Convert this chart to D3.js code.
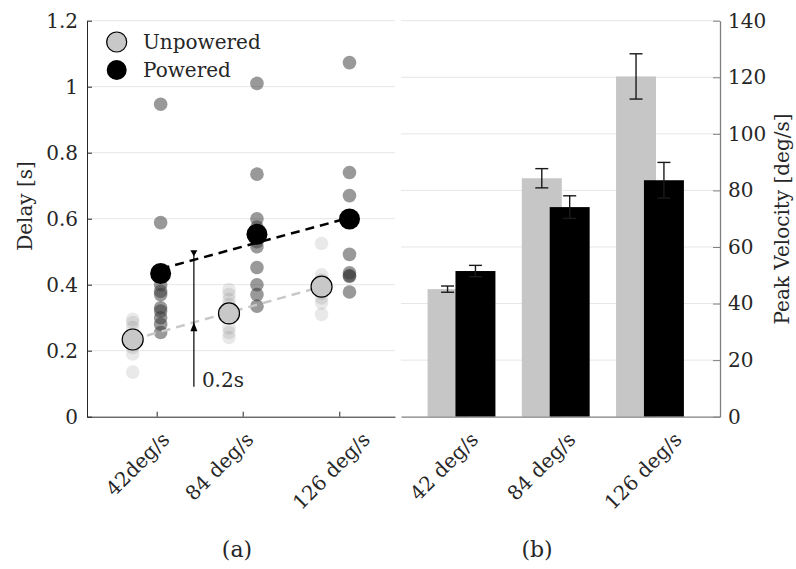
<!DOCTYPE html>
<html>
<head>
<meta charset="utf-8">
<script src="https://cdn.jsdelivr.net/npm/d3@7"></script>
<style>
  html, body { margin: 0; padding: 0; background: #fff; }
  svg { display: block; }
  svg text { font-family: "DejaVu Serif", serif !important; fill: #262626; }
</style>
</head>
<body>
<svg id="chart" width="796" height="569"></svg>
<script>
// ---------------- data ----------------
const leftCategories  = ["42deg/s", "84 deg/s", "126 deg/s"];
const rightCategories = ["42 deg/s", "84 deg/s", "126 deg/s"];
const categoryPos = [1, 2.02, 3.0];          // x position of each condition (panel a)
const leftTickPos = [1.106, 2.017, 3.04];    // x tick positions (panel a)
const delayTicks = [0, 0.2, 0.4, 0.6, 0.8, 1, 1.2];
const velocityTicks = [0, 20, 40, 60, 80, 100, 120, 140];

const unpoweredDelays = [
  [0.295, 0.285, 0.27, 0.25, 0.235, 0.21, 0.19, 0.135],
  [0.385, 0.37, 0.355, 0.34, 0.30, 0.27, 0.255, 0.24],
  [0.525, 0.43, 0.415, 0.40, 0.375, 0.36, 0.345, 0.31]
];
const poweredDelays = [
  [0.947, 0.588, 0.40, 0.38, 0.37, 0.33, 0.32, 0.30, 0.28, 0.255],
  [1.01, 0.735, 0.60, 0.575, 0.53, 0.515, 0.452, 0.40, 0.37, 0.335],
  [1.073, 0.74, 0.67, 0.60, 0.492, 0.436, 0.428, 0.425, 0.378]
];
const unpoweredMean = [0.234, 0.313, 0.394];
const poweredMean   = [0.434, 0.553, 0.599];
const unpoweredFit  = [0.234, 0.394];   // dashed fit line, first & last condition
const poweredFit    = [0.448, 0.603];
const annotationX = 1.5;
const annotationText = "0.2s";
const annotationSpan = 0.2;

const unpoweredVelocity = [45.1, 84.3, 120.3];
const unpoweredVelErr   = [1.1, 3.4, 8.0];
const poweredVelocity   = [51.5, 74.1, 83.6];
const poweredVelErr     = [2.0, 4.0, 6.3];

const legendLabels = ["Unpowered", "Powered"];
const panelLabels = ["(a)", "(b)"];

// ---------------- layout ----------------
const svg = d3.select("#chart");
const DARK = "#262626";
const GRID = "#e6e6e6";
const OFF = 0.148;
const FONT = "DejaVu Serif";
const labelShiftL = [14, 12, 32];   // pixel nudges of rotated tick labels
const labelShiftR = [18, 21, 33];

const yL = d3.scaleLinear().domain([0, 1.2]).range([416.7, 20.7]);
const xL = d3.scaleLinear().domain([0.368, 3.63]).range([87, 395]);
const yR = d3.scaleLinear().domain([0, 140]).range([416.7, 20.7]);
const xR = d3.scaleLinear().domain([0.358, 3.743]).range([401, 720]);

// ---------------- panel (a) ----------------
const gA = svg.append("g");
gA.append("g").selectAll("line").data(delayTicks.filter(d => d > 0)).join("line")
  .attr("x1", xL.range()[0]).attr("x2", xL.range()[1])
  .attr("y1", d => yL(d)).attr("y2", d => yL(d))
  .attr("stroke", GRID).attr("stroke-width", 1);

const axL = gA.append("g").attr("transform", `translate(${xL.range()[0]},0)`)
  .call(d3.axisLeft(yL).tickValues(delayTicks).tickSizeInner(-5).tickSizeOuter(0)
        .tickFormat(d => d3.format("")(d)));
axL.attr("font-family", FONT);
axL.select(".domain").attr("stroke", DARK);
axL.selectAll(".tick line").attr("stroke", DARK);
axL.selectAll(".tick text").attr("x", -9).style("font-size", "20px").attr("fill", DARK);

const axB = gA.append("g").attr("transform", `translate(0,${yL(0)})`)
  .call(d3.axisBottom(xL).tickValues(leftTickPos).tickSizeInner(-5).tickSizeOuter(0).tickFormat(""));
axB.select(".domain").attr("stroke", DARK);
axB.selectAll(".tick line").attr("stroke", DARK);
gA.append("g").selectAll("text").data(leftCategories).join("text")
  .attr("transform", (d, i) => `translate(${xL(leftTickPos[i]) + labelShiftL[i]},${yL(0) + 24}) rotate(-45)`)
  .attr("text-anchor", "end").attr("font-family", FONT).style("font-size", "20px").text(d => d);

const ptsG = gA.append("g");
unpoweredDelays.forEach((arr, i) => {
  ptsG.append("g").selectAll("circle").data(arr).join("circle")
    .attr("cx", xL(categoryPos[i] - OFF)).attr("cy", d => yL(d)).attr("r", 6.8)
    .attr("fill", "#333").attr("fill-opacity", 0.11);
});
poweredDelays.forEach((arr, i) => {
  ptsG.append("g").selectAll("circle").data(arr).join("circle")
    .attr("cx", xL(categoryPos[i] + OFF)).attr("cy", d => yL(d)).attr("r", 6.8)
    .attr("fill", "#333").attr("fill-opacity", 0.5);
});

gA.append("line")
  .attr("x1", xL(categoryPos[0] - OFF)).attr("y1", yL(unpoweredFit[0]))
  .attr("x2", xL(categoryPos[2] - OFF)).attr("y2", yL(unpoweredFit[1]))
  .attr("stroke", "#c8c8c8").attr("stroke-width", 2.5).attr("stroke-dasharray", "9,6");
gA.append("line")
  .attr("x1", xL(categoryPos[0] + OFF)).attr("y1", yL(poweredFit[0]))
  .attr("x2", xL(categoryPos[2] + OFF)).attr("y2", yL(poweredFit[1]))
  .attr("stroke", "#000").attr("stroke-width", 2.5).attr("stroke-dasharray", "9,6");

gA.append("g").selectAll("circle").data(unpoweredMean).join("circle")
  .attr("cx", (d, i) => xL(categoryPos[i] - OFF)).attr("cy", d => yL(d)).attr("r", 10.5)
  .attr("fill", "#c8c8c8").attr("stroke", "#000").attr("stroke-width", 1.2);
gA.append("g").selectAll("circle").data(poweredMean).join("circle")
  .attr("cx", (d, i) => xL(categoryPos[i] + OFF)).attr("cy", d => yL(d)).attr("r", 10.5)
  .attr("fill", "#000");

const fitAt = (fit, x0, x1, x) => fit[0] + (fit[1] - fit[0]) * (x - x0) / (x1 - x0);
const lowV = fitAt(unpoweredFit, categoryPos[0] - OFF, categoryPos[2] - OFF, annotationX);
const highV = lowV + annotationSpan;
const ax = xL(annotationX);
gA.append("line").attr("x1", ax).attr("x2", ax)
  .attr("y1", yL(0.091)).attr("y2", yL(highV) - 4)
  .attr("stroke", "#000").attr("stroke-width", 1.2);
gA.append("path").attr("d", `M${ax},${yL(lowV)} l-3.5,9 l7,0 z`).attr("fill", "#000");
gA.append("path").attr("d", `M${ax},${yL(highV)} l-3.5,-6 l7,0 z`).attr("fill", "#000");
gA.append("text").attr("x", ax + 8).attr("y", yL(0.091)).attr("font-family", FONT)
  .style("font-size", "20px").text(annotationText);

const leg = gA.append("g");
[[42, "#c8c8c8", "#000"], [70, "#000", "none"]].forEach((s, i) => {
  leg.append("circle").attr("cx", 116.7).attr("cy", s[0]).attr("r", 10)
    .attr("fill", s[1]).attr("stroke", s[2]).attr("stroke-width", 1.2);
  leg.append("text").attr("x", 143).attr("y", s[0] + 7).attr("font-family", FONT)
    .style("font-size", "20px").text(legendLabels[i]);
});

// ---------------- panel (b) ----------------
const gB = svg.append("g");
gB.append("g").selectAll("line").data(velocityTicks.filter(d => d > 0)).join("line")
  .attr("x1", xR.range()[0]).attr("x2", xR.range()[1])
  .attr("y1", d => yR(d)).attr("y2", d => yR(d))
  .attr("stroke", GRID).attr("stroke-width", 1);

const BW = 0.424;
const barsG = gB.append("g");
barsG.selectAll("rect.u").data(unpoweredVelocity).join("rect").attr("class", "u")
  .attr("x", (d, i) => xR(i + 1 - OFF - BW / 2)).attr("width", xR(BW) - xR(0))
  .attr("y", d => yR(d)).attr("height", d => yR(0) - yR(d)).attr("fill", "#c6c6c6");
barsG.selectAll("rect.p").data(poweredVelocity).join("rect").attr("class", "p")
  .attr("x", (d, i) => xR(i + 1 + OFF - BW / 2)).attr("width", xR(BW) - xR(0))
  .attr("y", d => yR(d)).attr("height", d => yR(0) - yR(d)).attr("fill", "#000");

function errBars(vals, errs, off) {
  const g = gB.append("g").attr("stroke", "#1a1a1a").attr("stroke-width", 1.4).attr("fill", "none");
  vals.forEach((v, i) => {
    const x = xR(i + 1 + off), t = yR(v + errs[i]), b = yR(v - errs[i]);
    g.append("line").attr("x1", x).attr("x2", x).attr("y1", t).attr("y2", b);
    g.append("line").attr("x1", x - 6.5).attr("x2", x + 6.5).attr("y1", t).attr("y2", t);
    g.append("line").attr("x1", x - 6.5).attr("x2", x + 6.5).attr("y1", b).attr("y2", b);
  });
}
errBars(unpoweredVelocity, unpoweredVelErr, -OFF);
errBars(poweredVelocity, poweredVelErr, OFF);

const axR = gB.append("g").attr("transform", `translate(${xR.range()[1]},0)`)
  .call(d3.axisRight(yR).tickValues(velocityTicks).tickSizeInner(-7).tickSizeOuter(0));
axR.attr("font-family", FONT);
axR.select(".domain").attr("stroke", "#808080").attr("stroke-width", 1.3);
axR.selectAll(".tick line").attr("stroke", "#808080");
axR.selectAll(".tick text").attr("x", 8).style("font-size", "20px").attr("fill", DARK);
const axRB = gB.append("g").attr("transform", `translate(0,${yR(0)})`)
  .call(d3.axisBottom(xR).tickValues([]).tickSizeOuter(0));
axRB.select(".domain").attr("stroke", "#808080").attr("stroke-width", 1.3);
gB.append("g").selectAll("text").data(rightCategories).join("text")
  .attr("transform", (d, i) => `translate(${xR(i + 1) + labelShiftR[i]},${yR(0) + 24}) rotate(-45)`)
  .attr("text-anchor", "end").attr("font-family", FONT).style("font-size", "20px").text(d => d);

svg.append("text").attr("transform", "translate(32,206) rotate(-90)").attr("font-family", FONT)
  .attr("text-anchor", "middle").style("font-size", "20px").text("Delay [s]");
svg.append("text").attr("transform", "translate(789,219) rotate(-90)").attr("font-family", FONT)
  .attr("text-anchor", "middle").style("font-size", "20px").text("Peak Velocity [deg/s]");

svg.append("text").attr("x", 237).attr("y", 557).attr("text-anchor", "middle").attr("font-family", FONT)
  .style("font-size", "22px").text(panelLabels[0]);
svg.append("text").attr("x", 537).attr("y", 557).attr("text-anchor", "middle").attr("font-family", FONT)
  .style("font-size", "22px").text(panelLabels[1]);
</script>
</body>
</html>
